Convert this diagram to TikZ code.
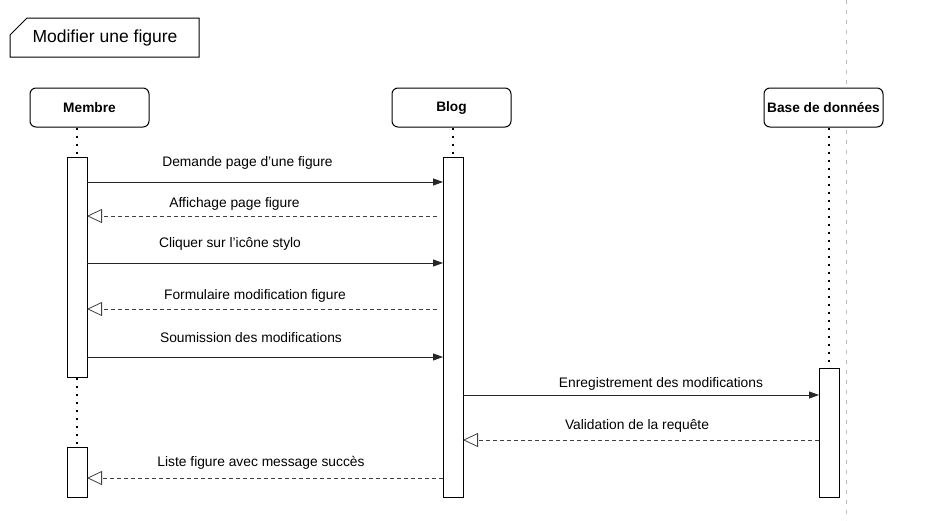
\documentclass[tikz,border=0pt]{standalone}
\usepackage{fontspec}
\setmainfont{Liberation Sans}
\usetikzlibrary{arrows.meta}
\newcommand{\apos}{\char39\relax}
\tikzset{
  head/.style={draw=black, line width=1pt, rounded corners=6pt, fill=white, minimum width=119pt, minimum height=39pt, inner sep=0pt, font=\fontsize{13.7}{16}\selectfont\bfseries},
  actbox/.style={draw=black, line width=0.9pt, fill=white, minimum width=20pt, inner sep=0pt, anchor=north},
  life/.style={line width=2pt, dash pattern=on 2pt off 6pt, black},
  msg/.style={draw=black!85, line width=0.9pt, -{Triangle[length=10pt,width=7pt]}},
  ret/.style={draw=black!75, line width=0.8pt, dash pattern=on 4pt off 3pt, -{Triangle[open,length=15pt,width=14pt,line width=0.8pt]}},
  lbl/.style={font=\fontsize{13.8}{16}\selectfont, inner sep=0pt}
}
\begin{document}
\begin{tikzpicture}[x=1pt,y=-1pt]
\useasboundingbox (0,0) rectangle (943,520);
% frame line
\coordinate (gtop) at (846,0);
\coordinate (gbot) at (846,520);
\draw[black!25, line width=0.8pt, dash pattern=on 4pt off 6pt] (gtop) -- (gbot);
% title
\draw[black, line width=1pt] (10,35) -- (27,18) -- (199,18) -- (199,57) -- (10,57) -- cycle;
\node[font=\fontsize{17.5}{20}\selectfont, inner sep=0pt] (title) at (105,38) {Modifier une figure};
% heads
\node[head] (membre) at (89.5,107.5) {Membre};
\node[head] (blog) at (451.5,107.5) {Blog};
\node[head] (bd) at (823.5,107.5) {Base de données};
% activations
\node[actbox, minimum height=220pt] (actM1) at (77,157) {};
\node[actbox, minimum height=50pt] (actM2) at (77,447) {};
\node[actbox, minimum height=340pt] (actB) at (453,157) {};
\node[actbox, minimum height=129pt] (actD) at (829,368) {};
% lifelines
\draw[life] (membre.south -| actM1.north) -- (actM1.north);
\draw[life] (actM1.south) -- (actM2.north);
\draw[life] (blog.south -| actB.north) -- (actB.north);
\draw[life] (bd.south -| actD.north) -- (actD.north);
% message endpoints
\coordinate (m1a) at (87,182);   \coordinate (m1b) at (443,182);
\coordinate (m2a) at (437,216);  \coordinate (m2b) at (87,216);
\coordinate (m3a) at (87,263);   \coordinate (m3b) at (443,263);
\coordinate (m4a) at (437,309);  \coordinate (m4b) at (87,309);
\coordinate (m5a) at (87,357);   \coordinate (m5b) at (443,357);
\coordinate (m6a) at (463,395);  \coordinate (m6b) at (819,395);
\coordinate (m7a) at (819,440);  \coordinate (m7b) at (463,440);
\coordinate (m8a) at (443,478);  \coordinate (m8b) at (87,478);
\draw[msg] (m1a) -- (m1b);
\draw[ret] (m2a) -- (m2b);
\draw[msg] (m3a) -- (m3b);
\draw[ret] (m4a) -- (m4b);
\draw[msg] (m5a) -- (m5b);
\draw[msg] (m6a) -- (m6b);
\draw[ret] (m7a) -- (m7b);
\draw[ret] (m8a) -- (m8b);
% labels
\node[lbl] (l1) at (247.5,163) {Demande page d\apos une figure};
\node[lbl] (l2) at (234.5,203.5) {Affichage page figure};
\node[lbl] (l3) at (230,243.5) {Cliquer sur l\apos icône stylo};
\node[lbl] (l4) at (255,296) {Formulaire modification figure};
\node[lbl] (l5) at (251,338) {Soumission des modifications};
\node[lbl] (l6) at (661,384) {Enregistrement des modifications};
\node[lbl] (l7) at (637,426) {Validation de la requête};
\node[lbl] (l8) at (261,463) {Liste figure avec message succès};
\end{tikzpicture}
\end{document}
